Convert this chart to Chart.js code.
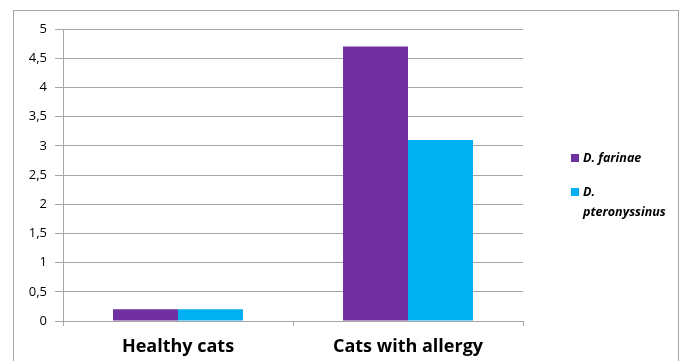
<!DOCTYPE html>
<html>
<head>
<meta charset="utf-8">
<script src="https://cdn.jsdelivr.net/npm/chart.js@4/dist/chart.umd.min.js"></script>
<style>
  html, body { margin: 0; padding: 0; background: #fff; }
  #wrap { width: 684px; height: 361px; position: relative; }
</style>
</head>
<body>
<div id="wrap"><canvas id="chart" width="684" height="361"></canvas></div>
<script>
const categories = ['Healthy cats', 'Cats with allergy'];
const farinae = [0.2, 4.7];
const pteronyssinus = [0.2, 3.1];
const seriesNames = [['D. farinae'], ['D.', 'pteronyssinus']];
const seriesColors = ['#7030a0', '#00b0f0'];

// frame around the whole chart
const framePlugin = {
    id: 'frame',
    afterDraw(chart) {
        const ctx = chart.ctx;
        ctx.save();
        ctx.strokeStyle = '#a6a6a6';
        ctx.lineWidth = 1;
        ctx.strokeRect(13.5, 10.5, 665, 360);
        ctx.restore();
    }
};

// legend on the right, with wrapped names
const legendPlugin = {
    id: 'sideLegend',
    afterDraw(chart) {
        const ctx = chart.ctx;
        ctx.save();
        ctx.font = 'italic bold 12.5px "Open Sans"';
        ctx.textBaseline = 'middle';
        let y = 158;
        chart.data.datasets.forEach((ds, i) => {
            ctx.fillStyle = ds.backgroundColor;
            ctx.fillRect(571, y - 4, 8, 8);
            ctx.fillStyle = '#000';
            seriesNames[i].forEach((line, j) => {
                ctx.fillText(line, 583, y + j * 20);
            });
            y += 34;
        });
        ctx.restore();
    }
};

new Chart(document.getElementById('chart'), {
    type: 'bar',
    data: {
        labels: categories,
        datasets: [
            { label: 'D. farinae', data: farinae, backgroundColor: seriesColors[0] },
            { label: 'D. pteronyssinus', data: pteronyssinus, backgroundColor: seriesColors[1] }
        ]
    },
    options: {
        responsive: false,
        animation: false,
        layout: { padding: { top: 29, right: 161, left: 0, bottom: 0 } },
        datasets: { bar: { categoryPercentage: 0.565, barPercentage: 1.0 } },
        plugins: { legend: { display: false }, tooltip: { enabled: false } },
        scales: {
            x: {
                afterFit(scale) { scale.height = 40; },
                grid: { offset: true, drawOnChartArea: false, drawTicks: true, tickLength: 5, color: '#a6a6a6' },
                border: { color: '#a6a6a6' },
                ticks: { color: '#000', padding: 10, font: { family: 'Open Sans', size: 18, weight: 'bold' } }
            },
            y: {
                min: 0,
                max: 5,
                afterFit(scale) { scale.width = 63; },
                grid: { color: '#a6a6a6', tickLength: 8 },
                border: { color: '#a6a6a6' },
                ticks: {
                    stepSize: 0.5,
                    padding: 8,
                    color: '#000',
                    font: { family: 'Open Sans', size: 13 },
                    callback: v => String(v).replace('.', ',')
                }
            }
        }
    },
    plugins: [framePlugin, legendPlugin]
});
</script>
</body>
</html>
